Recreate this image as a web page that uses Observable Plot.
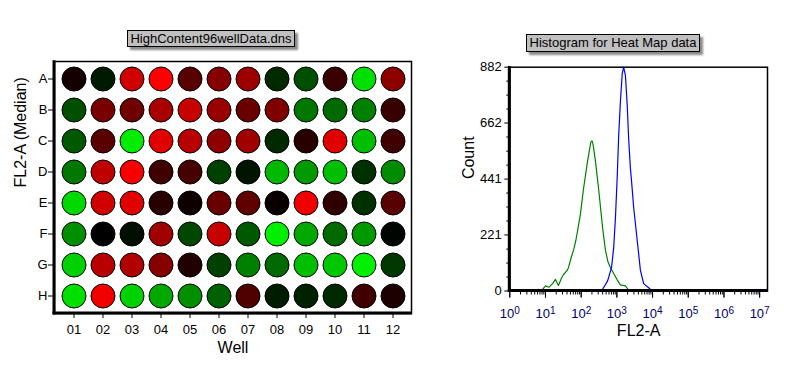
<!DOCTYPE html>
<html><head><meta charset="utf-8">
<script src="https://cdn.jsdelivr.net/npm/d3@7"></script>
<script src="https://cdn.jsdelivr.net/npm/@observablehq/plot@0.6"></script>
<style>
html,body{margin:0;padding:0;background:#fff;}
#wrap{position:relative;width:791px;height:369px;overflow:hidden;font-family:"Liberation Sans",Arial,sans-serif;}
.chart{position:absolute;top:0;}
.tbox{position:absolute;box-sizing:border-box;border:1px solid #000;background:#c0c0c0;box-shadow:3px 3px 2px #8a8a8a;font-size:13px;line-height:15px;text-align:center;color:#000;white-space:nowrap;}
</style></head>
<body><div id="wrap">
<div id="heat" class="chart" style="left:0"></div>
<div id="hist" class="chart" style="left:430px"></div>
<div class="tbox" style="left:127px;top:30px;width:168px;height:17px">HighContent96wellData.dns</div>
<div class="tbox" style="left:526px;top:34px;width:174px;height:18px">Histogram for Heat Map data</div>
</div>
<script>
// ---- Heat map data (signed intensity: negative = red, positive = green) ----
const rows = ["A","B","C","D","E","F","G","H"];
const cols = ["01","02","03","04","05","06","07","08","09","10","11","12"];
const rowA = [-8, 10, -82, -100, -35, -53, -61, 16, 31, -22, 88, -55];
const rowB = [31, -47, -44, -66, -78, -60, -41, -50, 47, 41, 50, -22];
const rowC = [35, -35, 93, -88, -72, -56, -63, 16, -16, -88, 75, -25];
const rowD = [47, -75, -97, -25, -28, 25, 8, 72, 60, 75, 19, 55];
const rowE = [85, -82, -88, -16, -6, -41, -38, -3, -94, -19, 19, -35];
const rowF = [56, 0, 6, -63, 28, -78, 35, 94, 66, 41, 60, 2];
const rowG = [82, -72, -69, -53, -13, 25, 50, 41, 75, 78, 94, 22];
const rowH = [88, -94, 82, 66, 56, 38, -31, 11, 13, 16, -25, -11];

// ---- Histogram data ----
const greenFL2 = [1.2, 1.7, 2.5, 3.5, 5, 6.3, 8, 10, 12.6, 16, 19, 23, 28, 32, 40, 44, 52, 62, 71, 79, 95, 117, 151, 186, 200, 214, 251, 309, 398, 479, 562, 661, 794, 1000, 1259, 1738, 2138, 2512];
const greenCount = [0, 5, 0, 4, 2, 7, 4, 20, 15, 30, 46, 22, 50, 65, 80, 92, 130, 164, 200, 236, 302, 406, 512, 587, 592, 580, 512, 400, 250, 160, 115, 92, 72, 46, 24, 20, 3, 0];
const blueFL2 = [288, 398, 550, 708, 813, 912, 1023, 1122, 1259, 1413, 1549, 1738, 1950, 2138, 2399, 2570, 2951, 3715, 4571, 5623, 7762, 9772];
const blueCount = [0, 7, 40, 92, 170, 290, 450, 610, 750, 857, 882, 849, 731, 600, 482, 435, 330, 199, 81, 29, 13, 0];

const yTicks = [0, 221, 441, 662, 882];
const yMinorTicks = [55, 110, 165, 276, 331, 386, 496, 551, 607, 717, 772, 827];
const xMajorTicks = [1, 10, 100, 1000, 1e4, 1e5, 1e6, 1e7];
const xTickBase = "10";
const xTickExponents = ["0","1","2","3","4","5","6","7"];
const xMinorTicks = [];
for (const p of xMajorTicks.slice(0, 7)) for (let m = 2; m <= 9; m++) xMinorTicks.push(p * m);

const font = '"Liberation Sans", Arial, sans-serif';

function thickenLeftBottom(svg) {
  let f = svg.querySelector('[aria-label="frame"]');
  if (f && f.tagName.toLowerCase() !== 'rect') f = f.querySelector('rect');
  const x = +f.getAttribute('x'), y = +f.getAttribute('y');
  const w = +f.getAttribute('width'), h = +f.getAttribute('height');
  const s = d3.select(svg);
  s.append('line').attr('x1', x).attr('x2', x).attr('y1', y - 0.75).attr('y2', y + h + 1.5)
    .attr('stroke', 'black').attr('stroke-width', 3);
  s.append('line').attr('x1', x - 1.5).attr('x2', x + w + 0.75).attr('y1', y + h).attr('y2', y + h)
    .attr('stroke', 'black').attr('stroke-width', 3);
}

// ---- Heat map ----
const allRows = [rowA, rowB, rowC, rowD, rowE, rowF, rowG, rowH];
const wells = rows.flatMap((r, i) => cols.map((c, j) => ({row: r, col: c, value: allRows[i][j]})));

const heat = Plot.plot({
  width: 430, height: 369,
  marginLeft: 54, marginRight: 19, marginTop: 61, marginBottom: 56,
  style: {fontFamily: font, background: "transparent", color: "black", overflow: "visible"},
  x: {type: "band", domain: cols, padding: 0, label: null},
  y: {type: "band", domain: rows, padding: 0, label: null},
  color: {type: "linear", domain: [-100, 0, 100], range: ["#ff0000", "#000000", "#00ff00"], interpolate: "rgb"},
  marks: [
    Plot.frame({stroke: "black", strokeWidth: 1.5}),
    Plot.dot(wells, {x: "col", y: "row", r: 12, fill: "value", stroke: "black", strokeWidth: 1}),
    Plot.axisX({tickSize: 5, tickPadding: 6, fontSize: 13, label: null}),
    Plot.axisY({tickSize: 6, tickPadding: 1, fontSize: 13, label: null}),
    Plot.text(["Well"], {frameAnchor: "bottom", dy: 34, fontSize: 16, lineAnchor: "middle"}),
    Plot.text(["FL2-A (Median)"], {frameAnchor: "left", dx: -34, rotate: -90, fontSize: 16, lineAnchor: "middle"})
  ]
});
document.getElementById("heat").appendChild(heat);
thickenLeftBottom(heat);

// ---- Histogram ----
const hist = Plot.plot({
  width: 361, height: 369,
  marginLeft: 79.3, marginRight: 24, marginTop: 66.7, marginBottom: 78.5,
  style: {fontFamily: font, background: "transparent", color: "black", overflow: "visible"},
  x: {type: "log", domain: [1, 1.66e7], label: null},
  y: {domain: [0, 882], label: null},
  marks: [
    Plot.frame({stroke: "black", strokeWidth: 1.5}),
    Plot.line(greenCount, {x: greenFL2, y: greenCount, stroke: "#008000", strokeWidth: 1.2}),
    Plot.line(blueCount, {x: blueFL2, y: blueCount, stroke: "#0000ff", strokeWidth: 1.2}),
    Plot.axisX(xMajorTicks, {tickSize: 7, tickPadding: 11, fontSize: 13, color: "#000070", tickFormat: d => xTickBase + "^" + xTickExponents[xMajorTicks.indexOf(d)], label: null}),
    Plot.axisX(xMajorTicks, {tickSize: 7, tickFormat: () => "", label: null}),
    Plot.axisX(xMinorTicks, {tickSize: 4, tickFormat: () => "", label: null}),
    Plot.axisY(yTicks, {tickSize: 5, tickPadding: 3, fontSize: 13, tickFormat: d => String(d), label: null}),
    Plot.axisY(yMinorTicks, {tickSize: 3, tickFormat: () => "", label: null}),
    Plot.text(["FL2-A"], {frameAnchor: "bottom", dy: 40, fontSize: 16, lineAnchor: "middle"}),
    Plot.text(["Count"], {frameAnchor: "left", dx: -41, rotate: -90, fontSize: 16, lineAnchor: "middle"})
  ]
});
document.getElementById("hist").appendChild(hist);
thickenLeftBottom(hist);

// Render "10^n" tick labels with a real superscript
d3.select(hist).selectAll("text").each(function() {
  const t = this.textContent;
  if (!/^10\^\d$/.test(t)) return;
  const [base, exp] = t.split("^");
  const sel = d3.select(this);
  sel.text(null);
  sel.append("tspan").text(base);
  sel.append("tspan").attr("dy", "-0.45em").attr("font-size", "10px").text(exp);
});
</script>
</body></html>
